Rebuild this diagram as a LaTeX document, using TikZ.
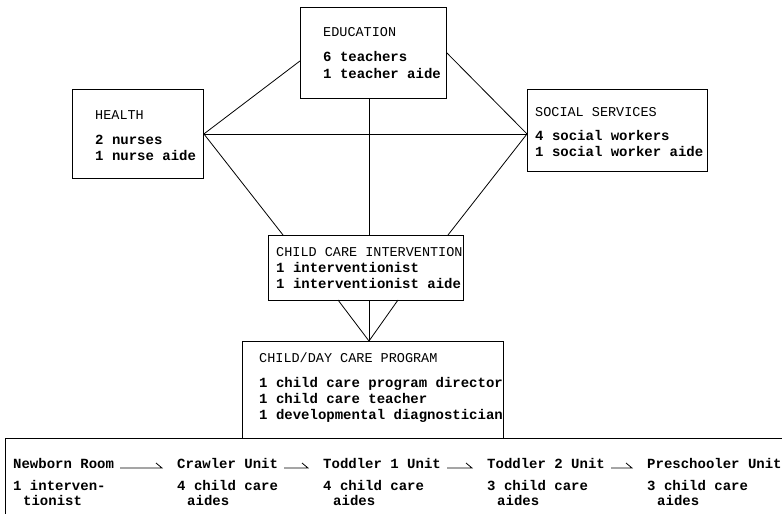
\documentclass[tikz,border=0pt]{standalone}
\usepackage{fontspec}
\setmonofont{Liberation Mono}
\begin{document}
\begin{tikzpicture}[x=1bp,y=-1bp,
  box/.style={draw, line width=0.9bp, inner sep=0pt, anchor=north west},
  hd/.style={font=\fontsize{13.5bp}{16bp}\selectfont\ttfamily, anchor=base west, inner sep=0pt},
  bd/.style={font=\fontsize{14bp}{16bp}\selectfont\ttfamily\bfseries, anchor=base west, inner sep=0pt},
  ln/.style={line width=0.8bp},
  harp/.style={line width=0.8bp}]
\useasboundingbox (0,0) rectangle (782,514);

% boxes
\node[box, minimum width=146bp, minimum height=91bp] (edu) at (300,7) {};
\node[box, minimum width=131bp, minimum height=89bp] (health) at (72,89) {};
\node[box, minimum width=180bp, minimum height=82bp] (social) at (527,89) {};
\node[box, minimum width=195bp, minimum height=65bp] (cci) at (268,235) {};
\node[box, minimum width=261bp, minimum height=97bp] (cdcp) at (242,341) {};

% bottom open frame
\coordinate (btl) at (5,438);
\coordinate (btr) at (782,438);
\coordinate (bbl) at (5,514);
\draw[ln] (bbl) -- (btl) -- (btr);

% texts
\node[hd] (t1) at (323,37) {EDUCATION};
\node[bd] (t2) at (323,62) {6 teachers};
\node[bd] (t3) at (323,79) {1 teacher aide};

\node[hd] (t4) at (95,120) {HEALTH};
\node[bd] (t5) at (95,145) {2 nurses};
\node[bd] (t6) at (95,161) {1 nurse aide};

\node[hd] (t7) at (535,117) {SOCIAL SERVICES};
\node[bd] (t8) at (535,141) {4 social workers};
\node[bd] (t9) at (535,157) {1 social worker aide};

\node[hd] (t10) at (276,257) {CHILD CARE INTERVENTION};
\node[bd] (t11) at (276,273) {1 interventionist};
\node[bd] (t12) at (276,289) {1 interventionist aide};

\node[hd] (t13) at (259,362) {CHILD/DAY CARE PROGRAM};
\node[bd] (t14) at (259,387) {1 child care program director};
\node[bd] (t15) at (259,403) {1 child care teacher};
\node[bd] (t16) at (259,419) {1 developmental diagnostician};

% bottom row
\node[bd] (n1) at (13,468) {Newborn Room};
\node[bd] (n2) at (13,490) {1 interven-};
\node[bd] (n3) at (23,505) {tionist};

\node[bd] (c1) at (177,468) {Crawler Unit};
\node[bd] (c2) at (177,490) {4 child care};
\node[bd] (c3) at (187,505) {aides};

\node[bd] (d1) at (323,468) {Toddler 1 Unit};
\node[bd] (d2) at (323,490) {4 child care};
\node[bd] (d3) at (333,505) {aides};

\node[bd] (e1) at (487,468) {Toddler 2 Unit};
\node[bd] (e2) at (487,490) {3 child care};
\node[bd] (e3) at (497,505) {aides};

\node[bd] (p1) at (647,468) {Preschooler Unit};
\node[bd] (p2) at (647,490) {3 child care};
\node[bd] (p3) at (657,505) {aides};

% harpoon arrows between units
\foreach \a/\b in {n1/c1, c1/d1, d1/e1, e1/p1}{
  \coordinate (s) at ([xshift=6bp]\a.base east);
  \coordinate (e) at ([xshift=-15bp]\b.base west);
  \draw[harp] (s) -- (e) -- ++(-6,-5);
}

% connectors
\coordinate (hE) at (health.east);
\coordinate (sW) at (social.west |- hE);
\coordinate (eW) at ([yshift=-8bp]edu.west);
\coordinate (eE) at ([yshift=0bp]edu.east);
\coordinate (ciL) at (283,235);
\coordinate (ciR) at (448,235);
\coordinate (ciM) at (369,235);
\coordinate (eS) at (369,98);
\draw[ln] (hE) -- (eW);
\draw[ln] (hE) -- (sW);
\draw[ln] (hE) -- (ciL);
\draw[ln] (eE) -- (sW);
\draw[ln] (sW) -- (ciR);
\draw[ln] (eS) -- (ciM);

\coordinate (cbL) at (338,300);
\coordinate (cbM) at (369,300);
\coordinate (cbR) at (398,300);
\coordinate (cdT) at (369,341);
\draw[ln] (cbL) -- (cdT) -- (cbR);
\draw[ln] (cbM) -- (cdT);
\end{tikzpicture}
\end{document}
